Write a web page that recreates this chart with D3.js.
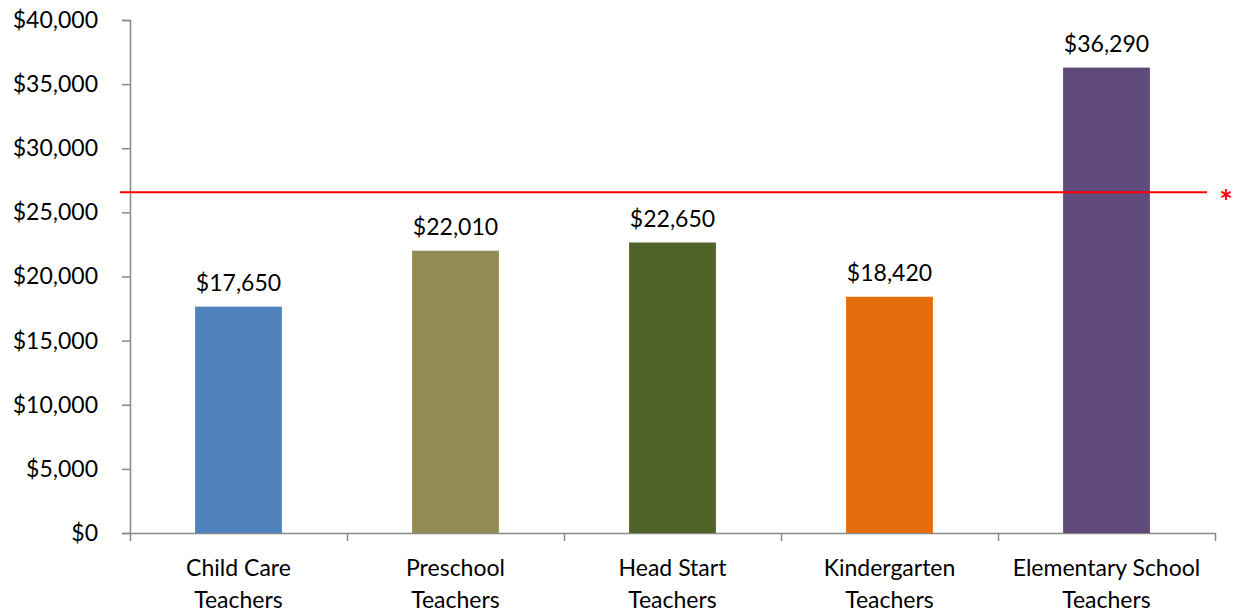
<!DOCTYPE html>
<html><head><meta charset="utf-8">
<script src="https://cdnjs.cloudflare.com/ajax/libs/d3/7.8.5/d3.min.js"></script>
<style>body{margin:0;background:#fff}svg{display:block}text{font-family:Lato,"Open Sans",sans-serif}</style>
</head><body><svg id="c" width="1233" height="613"></svg>
<script>
const categories = [["Child Care","Teachers"],["Preschool","Teachers"],["Head Start","Teachers"],["Kindergarten","Teachers"],["Elementary School","Teachers"]];
const values = [17650, 22010, 22650, 18420, 36290];
const colors = ["#4F81BD","#948A54","#4F6228","#E46C0A","#604A7B"];
const yTicks = [0,5000,10000,15000,20000,25000,30000,35000,40000];
const referenceValue = 26570;

const svg = d3.select("#c");
const x = d3.scaleBand().domain(d3.range(categories.length)).range([130,1215]).paddingInner(0.6).paddingOuter(0.3);
const y = d3.scaleLinear().domain([0,40000]).range([533,20]);
const fmt = d3.format("$,");
const FS = 23;

const yAxis = svg.append("g").attr("transform","translate(130,0)")
  .call(d3.axisLeft(y).tickValues(yTicks).tickFormat(fmt).tickSize(8).tickPadding(24));
yAxis.select(".domain").attr("stroke","#898989").attr("stroke-width",1.5);
yAxis.selectAll(".tick line").attr("stroke","#898989").attr("stroke-width",1.5);
yAxis.selectAll(".tick text").attr("font-size",FS).attr("fill","#000");

const xb = d3.scaleLinear().domain([0,categories.length]).range([130,1215]);
const xAxis = svg.append("g").attr("transform","translate(0,533)")
  .call(d3.axisBottom(xb).tickValues(d3.range(categories.length+1)).tickFormat("").tickSize(8).tickSizeOuter(0));
xAxis.select(".domain").attr("stroke","#898989").attr("stroke-width",1.5);
xAxis.selectAll(".tick line").attr("stroke","#898989").attr("stroke-width",1.5);

svg.selectAll("rect.bar").data(values).join("rect").attr("class","bar")
  .attr("x",(d,i)=>x(i)).attr("width",x.bandwidth())
  .attr("y",d=>y(d)).attr("height",d=>y(0)-y(d))
  .attr("fill",(d,i)=>colors[i]);

svg.selectAll("text.val").data(values).join("text").attr("class","val")
  .attr("x",(d,i)=>x(i)+x.bandwidth()/2).attr("y",d=>y(d)-16)
  .attr("text-anchor","middle").attr("font-size",FS).attr("fill","#000")
  .text(d=>fmt(d));

const cat = svg.selectAll("text.cat").data(categories).join("text").attr("class","cat")
  .attr("x",(d,i)=>x(i)+x.bandwidth()/2).attr("y",576)
  .attr("text-anchor","middle").attr("font-size",FS).attr("fill","#000");
cat.selectAll("tspan").data(d=>d).join("tspan")
  .attr("x",function(){return this.parentNode.getAttribute("x");})
  .attr("dy",(d,i)=>i===0?0:32).text(d=>d);

svg.append("line").attr("x1",120).attr("x2",1207)
  .attr("y1",y(referenceValue)).attr("y2",y(referenceValue))
  .attr("stroke","#FF0000").attr("stroke-width",2);
svg.append("text").attr("x",1226).attr("y",y(referenceValue)+22)
  .attr("text-anchor","middle").attr("font-size",32).attr("font-weight","bold")
  .attr("fill","#FF0000").text("*");
</script></body></html>
